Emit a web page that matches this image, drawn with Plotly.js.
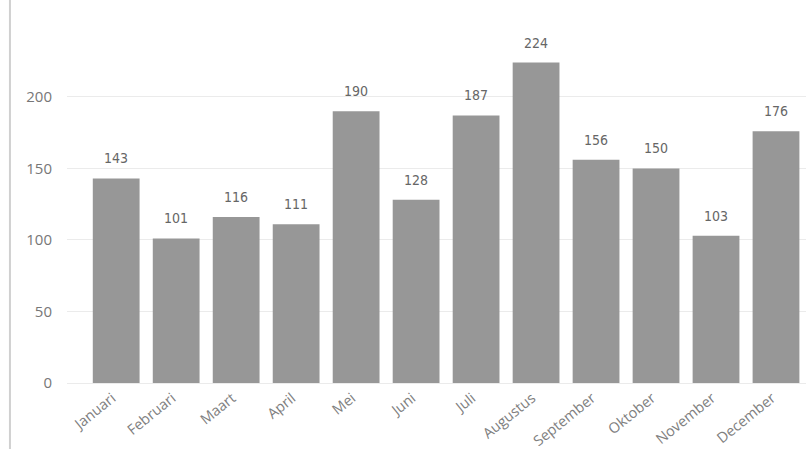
<!DOCTYPE html>
<html>
<head>
<meta charset="utf-8">
<script src="https://cdn.plot.ly/plotly-3.0.1.min.js"></script>
<style>html,body{margin:0;padding:0;background:#fff;}#chart{width:809px;height:449px;}</style>
</head>
<body>
<div id="chart"></div>
<script>
const months = ["Januari","Februari","Maart","April","Mei","Juni","Juli","Augustus","September","Oktober","November","December"];
const values = [143,101,116,111,190,128,187,224,156,150,103,176];
const yTicks = [0,50,100,150,200];

const trace = {
  type: "bar",
  x: months,
  y: values,
  marker: {color: "#979797"},
  hoverinfo: "none"
};

const annotations = months.map((m, i) => ({
  x: m, y: values[i], xref: "x", yref: "y",
  text: String(values[i]),
  showarrow: false,
  yanchor: "middle",
  yshift: 20,
  font: {family: "DejaVu Sans Condensed", size: 14, color: "#666666"}
}));

const layout = {
  width: 809, height: 449,
  margin: {l: 67, r: 3, t: 11, b: 66},
  paper_bgcolor: "#ffffff",
  plot_bgcolor: "#ffffff",
  bargap: 0.22,
  showlegend: false,
  xaxis: {
    type: "category",
    range: [-0.82, 11.5],
    tickangle: -39,
    ticklabelshift: -4,
    ticklabelstandoff: 3,
    automargin: false,
    tickfont: {family: "Open Sans", size: 14.5, color: "#808080"},
    showgrid: false,
    zeroline: false,
    showline: false,
    ticks: ""
  },
  yaxis: {
    range: [0, 260],
    tickvals: yTicks,
    ticktext: yTicks.map(String),
    tickfont: {family: "Open Sans", size: 15, color: "#777777"},
    ticklabelstandoff: 14,
    gridcolor: "#ebebeb",
    gridwidth: 1,
    zeroline: true,
    zerolinecolor: "#ebebeb",
    showline: false,
    ticks: ""
  },
  annotations: annotations,
  shapes: [{
    type: "line", xref: "paper", yref: "paper",
    x0: -0.0772, x1: -0.0772, y0: -0.2, y1: 1.05,
    line: {color: "#d0d0d0", width: 2}
  }]
};

Plotly.newPlot("chart", [trace], layout, {displayModeBar: false, staticPlot: true});
</script>
</body>
</html>
